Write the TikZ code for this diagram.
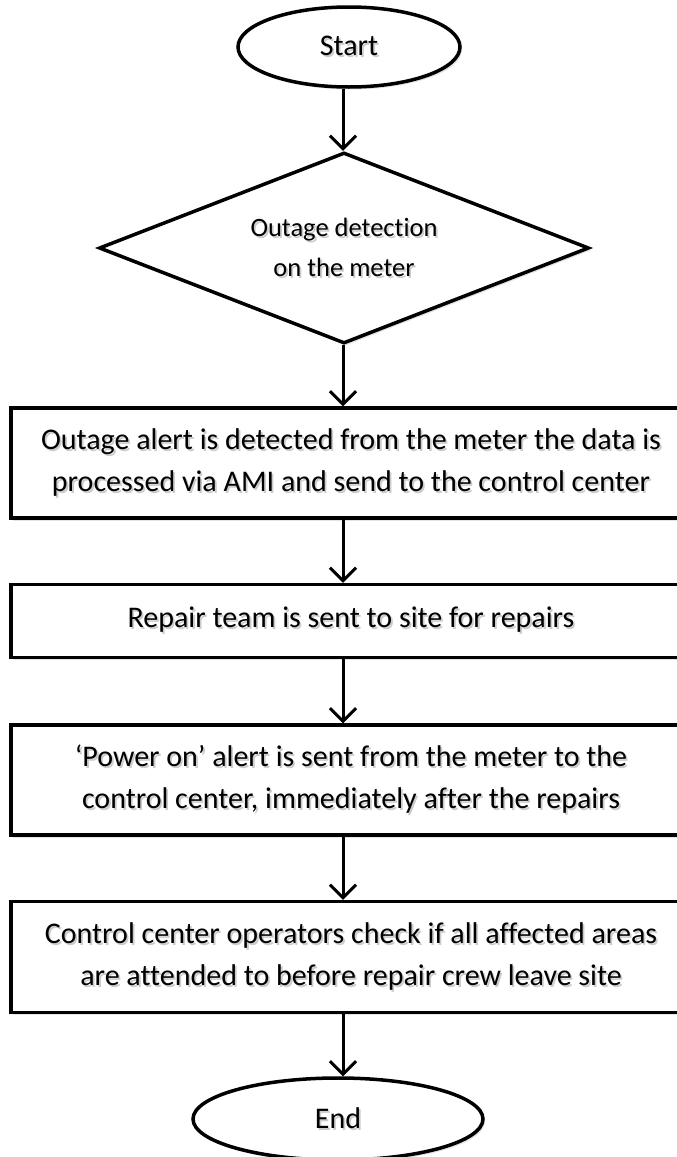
\documentclass[tikz,border=0pt]{standalone}
\usepackage{fontspec}
\setmainfont{Carlito}[Ligatures=NoCommon]
\usetikzlibrary{shapes.geometric,arrows.meta,shadows}

% soft grey copy of a line of text, drawn just below-right of it
\newcommand\shtext[1]{\makebox[0pt][l]{\hspace{1.8pt}\raisebox{-2pt}{\color{black!20}#1}}#1}

\begin{document}
\begin{tikzpicture}[x=1pt,y=-1pt,
  label font/.style={font=\fontsize{30}{42}\selectfont},
  shape line/.style={draw=black, line width=3.5pt, fill=white, inner sep=0pt,
    drop shadow={shadow xshift=2pt, shadow yshift=-2.5pt, opacity=0.22}},
  terminal/.style={shape line, ellipse, label font},
  decision/.style={shape line, diamond, shape aspect=2.57,
    font=\fontsize{26.5}{40}\selectfont, align=center},
  process/.style={shape line, rectangle, label font, align=center, minimum width=680},
  flow/.style={line width=3pt, -{Straight Barb[length=13pt,width=26pt,line width=3pt]}}]

\clip (0,0) rectangle (677,1157);
\fill[white] (0,0) rectangle (677,1157);

\coordinate (axis) at (343,0);

\node[terminal, minimum width=222, minimum height=80] (start) at (349,47) {\shtext{Start}};
\node[decision, minimum width=490, minimum height=191] (detect) at (344,248)
  {\shtext{Outage detection}\\\shtext{on the meter}};
\node[process, minimum height=110] (alert) at (351,463)
  {\shtext{Outage alert is detected from the meter the data is}\\
   \shtext{processed via AMI and send to the control center}};
\node[process, minimum height=73] (repair) at (351,621)
  {\shtext{Repair team is sent to site for repairs}};
\node[process, minimum height=110] (poweron) at (351,780)
  {\shtext{‘Power on’ alert is sent from the meter to the}\\
   \shtext{control center, immediately after the repairs}};
\node[process, minimum height=111] (check) at (351,957)
  {\shtext{Control center operators check if all affected areas}\\
   \shtext{are attended to before repair crew leave site}};
\node[terminal, minimum width=290, minimum height=82] (finish) at (338,1119) {\shtext{End}};

\draw[flow] (start.south -| axis) -- (detect.north -| axis);
\draw[flow] (detect.south -| axis) -- (alert.north -| axis);
\draw[flow] (alert.south -| axis) -- (repair.north -| axis);
\draw[flow] (repair.south -| axis) -- (poweron.north -| axis);
\draw[flow] (poweron.south -| axis) -- (check.north -| axis);
\draw[flow] (check.south -| axis) -- (finish.north -| axis);
\end{tikzpicture}
\end{document}
